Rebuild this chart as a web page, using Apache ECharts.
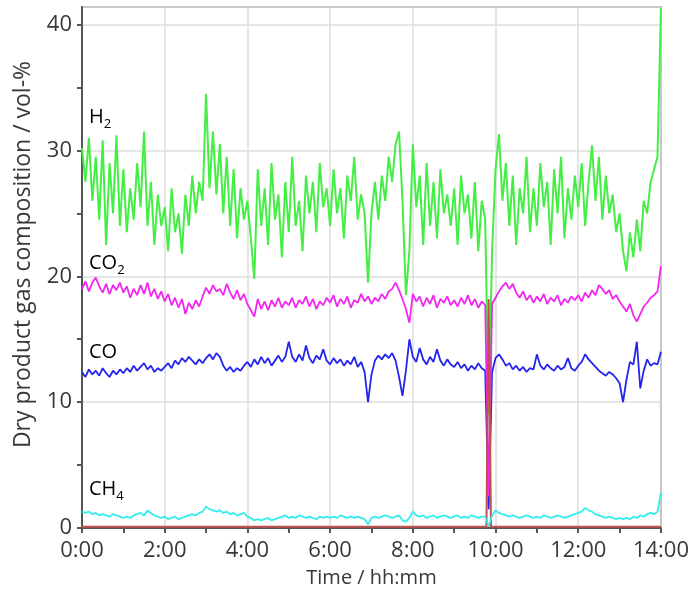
<!DOCTYPE html>
<html>
<head>
<meta charset="utf-8">
<script src="https://cdn.jsdelivr.net/npm/echarts@6/dist/echarts.min.js"></script>
<style>
  html, body { margin: 0; padding: 0; background: #fff; }
  #chart { width: 692px; height: 595px; }
</style>
</head>
<body>
<div id="chart"></div>
<script>
// samples every 5 minutes, 0:00 .. 14:00 (12 values per hour, last one is 14:00)
var stepMinutes = 5;

var h2 = [
  30.2, 27.5, 31.0, 26.0, 29.5, 24.5, 30.8, 22.5, 29.0, 25.0, 31.2, 24.0,
  28.5, 23.5, 27.0, 24.5, 29.0, 25.5, 31.5, 24.0, 27.5, 22.5, 26.5, 24.0,
  25.5, 22.0, 27.0, 23.5, 25.0, 21.8, 26.5, 24.0, 28.0, 25.0, 27.5, 26.0,
  34.5, 27.0, 31.5, 26.5, 30.5, 25.0, 29.5, 24.0, 28.5, 23.0, 27.0, 24.5,
  26.0, 23.0, 19.8, 28.5, 24.0, 27.0, 22.5, 29.0, 24.5, 26.5, 21.5, 27.5,
  23.5, 29.5, 24.0, 26.0, 22.0, 28.0, 25.0, 27.5, 23.5, 29.0, 25.5, 27.0,
  24.0, 28.5, 25.0, 27.0, 23.0, 28.0, 26.0, 29.5, 24.5, 26.5, 25.0, 19.5,
  25.0, 27.5, 24.5, 28.0, 26.0, 29.5, 27.5, 30.5, 31.5, 26.0, 18.5, 22.0,
  30.5, 25.5, 28.0, 22.5, 29.0, 24.0, 27.5, 23.0, 28.5, 25.0, 26.5, 24.0,
  27.0, 22.5, 28.0, 25.0, 26.5, 23.0, 27.5, 22.0, 26.0, 24.5, 9.0, 22.0,
  28.5, 31.3, 26.0, 29.0, 24.0, 28.0, 22.5, 27.0, 25.0, 29.5, 23.5, 27.0,
  24.0, 29.0, 25.5, 27.5, 22.5, 28.5, 25.0, 29.5, 23.0, 27.0, 24.5, 28.0,
  25.5, 29.0, 24.0, 27.5, 30.4, 26.0, 29.5, 24.5, 28.0, 25.0, 26.5, 23.5,
  25.0, 22.0, 20.4, 23.5, 21.5, 24.5, 22.0, 26.0, 25.0, 27.5, 28.5, 29.5,
  41.3
];

var co2 = [
  19.0, 19.6, 18.8, 19.5, 19.9, 19.2, 18.7, 19.4, 18.6, 19.3, 18.9, 19.5,
  18.7, 19.2, 18.3, 19.0, 18.5, 19.3, 18.6, 19.5, 18.4, 19.0, 18.2, 18.8,
  18.0, 18.6, 17.7, 18.3, 17.5, 18.2, 17.0, 17.9, 17.4, 18.1, 17.6, 18.4,
  19.1, 18.6, 19.3, 18.8, 19.0, 18.5, 19.4, 18.7, 18.2, 18.9, 18.1, 18.6,
  17.8, 17.3, 16.8, 18.2, 17.4, 18.0, 17.3, 18.1, 17.6, 18.3, 17.5, 18.0,
  17.7, 18.3, 17.5, 18.1, 17.8, 18.4, 17.6, 18.2, 17.4, 18.0, 17.7, 18.3,
  17.9, 18.5, 17.6, 18.2, 17.8, 18.4, 17.5, 18.1, 17.9, 18.6, 18.0, 18.4,
  17.8, 18.3, 18.0, 18.6, 18.2, 18.8, 19.0, 19.5, 18.9, 18.2, 17.4, 16.3,
  18.6, 18.0, 18.4, 17.6, 18.3, 17.8, 18.5, 17.5, 18.2, 17.9, 18.4, 17.7,
  18.1, 17.6, 18.3, 17.8, 18.5, 17.7, 18.2, 17.5, 18.0, 17.7, 2.5, 17.8,
  18.3, 18.8, 19.2, 19.5, 19.0, 19.4, 18.7, 18.3, 18.8, 18.1, 18.5, 17.9,
  18.4, 18.0, 18.6, 17.8, 18.3, 18.0, 18.5, 17.7, 18.2, 17.9, 18.4, 18.1,
  18.5, 18.0, 18.7, 18.3, 18.9, 18.5, 19.3, 19.0, 18.6, 18.9, 18.2, 18.5,
  18.0, 17.6, 17.2, 17.8, 16.9, 16.4, 17.0, 17.6, 17.9, 18.3, 18.5, 18.8,
  20.8
];

var co = [
  12.4, 12.0, 12.6, 12.2, 12.5, 12.1, 12.7, 12.3, 12.0, 12.5, 12.2, 12.6,
  12.3, 12.7, 12.4, 12.9, 12.5, 12.8, 13.1, 12.6, 12.9, 12.4, 12.7, 12.5,
  12.8, 13.1, 12.7, 13.3, 13.0, 13.5, 13.2, 13.6, 13.3, 13.0, 13.4, 13.1,
  13.5, 13.8, 13.4, 13.9, 13.6, 12.9, 12.5, 12.8, 12.4, 12.7, 12.5, 12.9,
  13.2, 12.8, 13.4, 13.0, 13.6, 13.1, 13.5, 12.9, 13.3, 13.7, 13.2, 13.6,
  14.8, 13.6, 13.2, 13.8, 13.3, 14.5, 13.5, 13.1, 13.7, 13.4, 14.2, 13.3,
  13.0, 13.5, 13.1, 13.4, 12.9, 13.3, 13.0, 13.6, 12.8, 13.2, 12.4, 10.0,
  12.2, 13.3, 13.7, 13.4, 13.8, 13.5, 13.9, 13.3, 12.0, 10.5, 12.5, 15.0,
  13.6, 13.2, 14.3, 13.4, 13.0, 13.6, 13.2, 14.2, 13.3, 12.9, 13.4, 13.0,
  12.8, 13.2, 12.7, 13.0, 12.5, 12.9, 12.6, 13.1, 12.7, 12.5, 1.5, 12.4,
  13.5, 13.8, 13.4, 12.9, 13.1, 12.6, 12.9, 12.5, 12.8, 12.4, 12.7, 12.6,
  13.8, 12.9, 12.6, 13.0, 12.7, 12.5, 12.9, 12.6, 12.8, 13.5, 12.7, 12.5,
  12.9, 13.2, 13.8, 13.4, 13.1, 12.8, 12.5, 12.3, 12.1, 12.4, 12.2, 11.9,
  11.5, 10.0, 11.8, 13.2, 13.0, 14.8, 11.1, 12.5, 13.4, 12.9, 13.1, 13.0,
  14.0
];

var ch4 = [
  1.3, 1.2, 1.3, 1.1, 1.2, 1.0, 1.1, 1.0, 0.9, 1.1, 1.0, 0.9,
  0.8, 0.9, 0.8, 1.0, 1.1, 1.2, 1.0, 1.4, 1.2, 1.0, 0.9, 0.8,
  0.9, 0.7, 0.8, 0.9, 0.7, 0.8, 0.9, 1.0, 1.1, 1.0, 1.2, 1.3,
  1.7, 1.5, 1.4, 1.3, 1.4, 1.2, 1.3, 1.1, 1.2, 1.0, 1.1, 1.2,
  0.9, 0.8, 0.6, 0.7, 0.6, 0.7, 0.8, 0.6, 0.7, 0.8, 0.9, 1.0,
  0.8, 0.9, 0.8, 1.0, 0.9, 0.8, 0.9, 0.8, 0.7, 0.9, 0.8, 0.9,
  0.8, 0.9, 0.8, 1.0, 0.9, 0.8, 0.9, 0.8, 0.9, 0.8, 0.7, 0.3,
  0.8, 0.9, 0.8, 0.9, 1.0, 0.9, 0.8, 0.9, 1.0, 0.6, 0.5, 0.8,
  1.3, 1.0, 0.9, 1.0, 0.8, 0.9, 1.0, 0.8, 0.9, 1.0, 0.9, 0.8,
  0.9, 1.0, 0.8, 0.9, 0.8, 1.0, 0.9, 0.8, 0.9, 0.9, 0.1, 1.0,
  1.4, 1.2, 1.1, 1.0, 0.9, 1.0, 0.9, 0.8, 0.9, 1.0, 0.9, 0.8,
  0.9, 0.8, 1.0, 0.9, 0.8, 0.9, 1.0, 0.9, 0.8, 0.9, 1.0, 1.1,
  1.2, 1.3, 1.6, 1.4, 1.3, 1.1, 1.0, 0.9, 0.8, 0.9, 0.8, 0.7,
  0.8, 0.7, 0.8, 0.7, 0.9, 0.8, 1.0, 0.9, 1.1, 1.2, 1.1, 1.3,
  2.8
];

// unlabelled red trace, flat near zero with one spike
var redTimes = [0, 9.78, 9.8333, 9.89, 14];
var redValues = [0.1, 0.1, 18.2, 0.1, 0.1];

var xTicks = [0, 2, 4, 6, 8, 10, 12, 14];

function pairs(vals) {
  var out = [];
  for (var i = 0; i < vals.length; i++) {
    out.push([i * stepMinutes / 60, vals[i]]);
  }
  return out;
}

var redData = redTimes.map(function (t, i) { return [t, redValues[i]]; });

var chart = echarts.init(document.getElementById('chart'));
var font = '"Open Sans", "Noto Sans", sans-serif';
var axisColor = '#555';
var textColor = '#383838';

function subLabel(main, sub) {
  var rich = {
    m: { fontFamily: font, fontSize: 20, color: textColor, verticalAlign: 'bottom' },
    s: { fontFamily: font, fontSize: 13, color: textColor, verticalAlign: 'bottom', padding: [0, 0, -4, 0] }
  };
  return { text: sub ? '{m|' + main + '}{s|' + sub + '}' : '{m|' + main + '}', rich: rich };
}

var option = {
  animation: false,
  backgroundColor: '#fff',
  grid: {
    left: 82, right: 27, top: 7, bottom: 67,
    show: true, borderColor: '#8c8c8c', borderWidth: 2
  },
  xAxis: [
    {
      type: 'value', min: 0, max: 14, interval: 1,
      name: 'Time / hh:mm', nameLocation: 'middle', nameGap: 40,
      nameTextStyle: { fontFamily: font, fontSize: 20, color: textColor },
      axisLine: { show: true, lineStyle: { color: axisColor, width: 2 } },
      axisTick: { show: true, length: 5, lineStyle: { color: axisColor, width: 2 } },
      axisLabel: {
        fontFamily: font, fontSize: 22, color: textColor, margin: 12,
        formatter: function (v) { return xTicks.indexOf(v) >= 0 ? v + ':00' : ''; }
      },
      splitLine: { show: false }
    },
    {
      type: 'value', min: 0, max: 14, interval: 2, position: 'bottom',
      axisLine: { show: false }, axisTick: { show: false }, axisLabel: { show: false },
      splitLine: { show: true, lineStyle: { color: '#dcdcdc', width: 1.5 } }
    }
  ],
  yAxis: [
    {
      type: 'value', min: 0, max: 41.4, interval: 5,
      name: 'Dry product gas composition / vol-%', nameLocation: 'middle', nameGap: 47,
      nameTextStyle: { fontFamily: font, fontSize: 23, color: textColor, padding: [0, 0, 0, 26] },
      axisLine: { show: true, lineStyle: { color: axisColor, width: 2 } },
      axisTick: { show: true, length: 5, lineStyle: { color: axisColor, width: 2 } },
      axisLabel: {
        fontFamily: font, fontSize: 22, color: textColor, margin: 10,
        showMaxLabel: false,
        formatter: function (v) { return v % 10 === 0 ? String(v) : ''; }
      },
      splitLine: { show: false }
    },
    {
      type: 'value', min: 0, max: 41.4, interval: 10, position: 'left',
      axisLine: { show: false }, axisTick: { show: false }, axisLabel: { show: false },
      splitLine: { show: true, lineStyle: { color: '#dcdcdc', width: 1.5 } }
    }
  ],
  series: [
    {
      name: 'H2', type: 'line', data: pairs(h2), showSymbol: false,
      lineStyle: { color: '#44ee44', width: 2 }, z: 2
    },
    {
      name: 'CO', type: 'line', data: pairs(co), showSymbol: false,
      lineStyle: { color: '#2424ee', width: 1.8 }, z: 3
    },
    {
      name: 'CO2', type: 'line', data: pairs(co2), showSymbol: false,
      lineStyle: { color: '#f028f0', width: 1.8 }, z: 4
    },
    {
      name: 'other', type: 'line', data: redData, showSymbol: false,
      lineStyle: { color: '#c05050', width: 2 }, z: 5
    },
    {
      name: 'CH4', type: 'line', data: pairs(ch4), showSymbol: false,
      lineStyle: { color: '#34eeee', width: 1.8 }, z: 6
    }
  ],
  graphic: [
    { type: 'text', left: 89, top: 107, z: 100, style: subLabel('H', '2') },
    { type: 'text', left: 89, top: 253, z: 100, style: subLabel('CO', '2') },
    { type: 'text', left: 89, top: 342, z: 100, style: subLabel('CO', '') },
    { type: 'text', left: 89, top: 479, z: 100, style: subLabel('CH', '4') }
  ]
};

chart.setOption(option);
</script>
</body>
</html>
